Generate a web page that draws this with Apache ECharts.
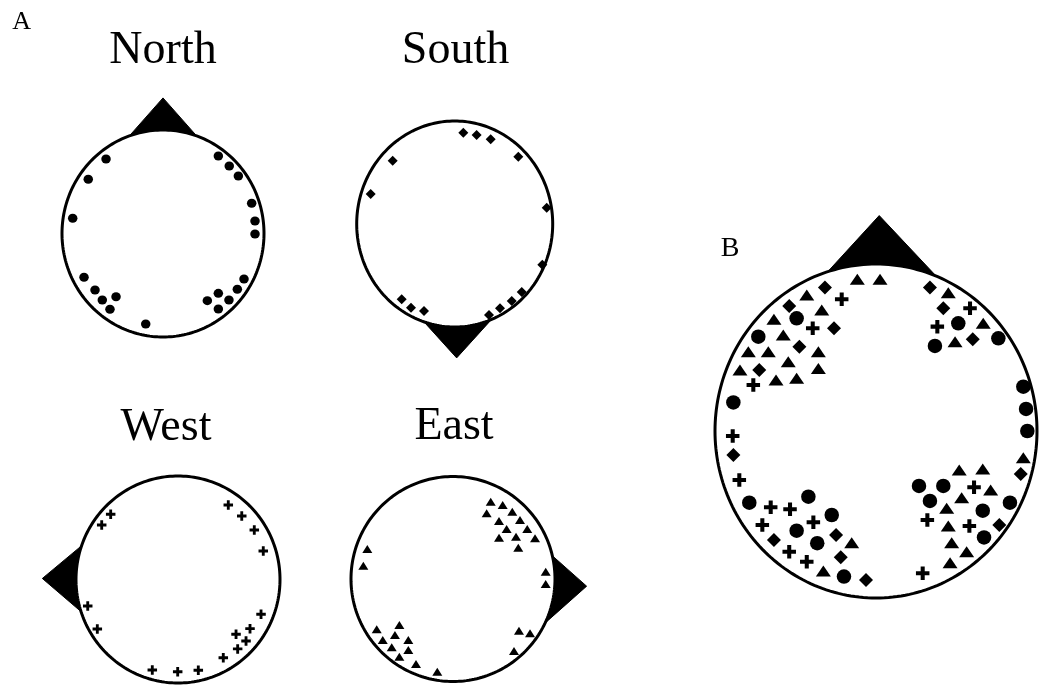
<!DOCTYPE html>
<html>
<head>
<meta charset="utf-8">
<script src="https://cdn.jsdelivr.net/npm/echarts@6/dist/echarts.min.js"></script>
<style>
  html, body { margin: 0; padding: 0; background: #fff; }
  #chart { width: 1039px; height: 685px; }
</style>
</head>
<body>
<div id="chart"></div>
<script>
// Electrode positions in head units (head radius = 100, +y toward the top of the page)

// Panel A: one condition per head
const northDots = [[-56.4,72.0],[-74.0,52.4],[-89.4,14.7],[-78.2,-42.3],[-67.3,-54.6],[-60.1,-64.3],[-52.5,-73.2],[-46.5,-61.1],[-17.1,-87.4],[54.8,74.9],[65.6,65.2],[74.6,55.6],[87.8,29.2],[91.1,12.1],[91.1,-0.5],[80.2,-44.0],[73.6,-53.9],[65.3,-64.3],[54.8,-57.8],[43.9,-64.9],[54.8,-72.9]];
const southDiamonds = [[8.8,88.6],[22.4,86.4],[36.7,82.2],[64.9,65.3],[-63.3,61.5],[-85.7,29.1],[93.9,15.8],[89.4,-39.5],[68.4,-66.0],[58.2,-74.8],[46.2,-81.8],[35.0,-88.3],[-54.1,-73.1],[-44.6,-81.3],[-31.3,-84.5]];
const westCrosses = [[-66.0,63.0],[-74.8,52.7],[49.3,72.0],[62.5,61.4],[74.8,47.8],[83.6,27.5],[-88.5,-25.6],[-79.1,-47.8],[81.4,-33.6],[70.6,-47.5],[56.9,-52.9],[66.7,-59.4],[58.5,-67.1],[44.4,-75.6],[-25.2,-87.4],[-0.3,-89.1],[19.9,-87.7]];
const eastTriangles = [[37.0,75.4],[48.7,72.2],[33.0,64.1],[58.1,65.7],[45.1,56.6],[65.7,57.6],[52.6,48.8],[72.8,48.8],[45.1,40.3],[61.8,41.3],[80.4,39.7],[64.0,30.5],[-84.0,29.3],[-87.9,13.0],[90.9,7.1],[90.9,-4.9],[-52.6,-44.9],[-74.8,-49.1],[-56.9,-54.6],[-68.9,-59.5],[-43.8,-59.5],[-60.1,-66.6],[-43.8,-69.3],[-52.6,-75.8],[-36.3,-82.9],[-15.4,-90.4],[64.7,-50.4],[75.5,-53.0],[59.8,-70.2]];

// Panel B: all four conditions on one head
const bCircles = [[-49.3,67.5],[-73.1,56.5],[-88.6,17.1],[51.1,64.5],[36.6,50.9],[76.0,55.5],[91.5,26.5],[93.2,13.2],[94.0,0],[-78.7,-42.9],[-42.0,-39.3],[-49.3,-59.7],[-27.5,-50.3],[-36.5,-67.2],[-19.9,-87.2],[26.7,-32.9],[41.8,-32.9],[33.5,-41.9],[83.2,-42.9],[66.3,-47.7],[67.1,-63.7]];
const bTriangles = [[-11.6,90.8],[2.5,90.8],[-43.0,81.4],[-33.7,72.5],[-63.4,66.9],[-57.6,57.5],[-79.3,47.5],[-66.9,47.5],[-35.8,47.5],[-54.5,41.5],[-84.5,36.5],[-35.8,37.5],[-62.1,30.5],[-49.3,31.6],[44.9,82.8],[66.6,64.5],[49.1,53.5],[-15.1,-66.9],[-32.7,-83.8],[91.5,-16.0],[51.7,-23.4],[66.3,-22.8],[71.2,-35.3],[53.2,-39.9],[43.9,-46.3],[44.9,-56.9],[47.0,-66.9],[56.3,-72.3],[46.0,-78.9]];
const bDiamonds = [[-31.7,86.0],[-53.9,74.9],[-26.1,61.5],[-47.6,50.5],[-72.5,36.5],[33.5,86.0],[41.8,73.5],[60.1,54.9],[-88.6,-14.4],[-63.4,-65.3],[-24.8,-62.3],[-21.9,-75.6],[-6.2,-89.2],[89.9,-25.7],[76.6,-56.3]];
const bCrosses = [[-21.3,78.9],[-39.3,61.5],[-76.2,27.5],[58.4,73.5],[38.1,62.5],[-89.0,-3.0],[-84.9,-29.3],[-65.4,-45.7],[-53.4,-46.9],[-70.6,-56.3],[-38.9,-54.7],[-53.9,-72.3],[-43.0,-78.3],[60.9,-33.7],[31.9,-53.3],[58.0,-56.9],[29.0,-85.2]];

// Nose outlines: apex, then the two base corners (head units)
const noseNorth = [[0,131],[-39,88],[39,88]];
const noseSouth = [[2,-130],[-38,-88],[42,-88]];
const noseWest = [[-133,1],[-88,38],[-88,-37]];
const noseEast = [[131,-7],[88,31],[88,-45]];
const noseB = [[2,129],[-37,88],[42,88]];

const headTitles = ['North', 'South', 'West', 'East'];
const panelLetters = ['A', 'B'];

// ---- layout (page pixels); xs/ys = axis half-range in head units ----
const frames = [
  { cx: 163,   cy: 233.5, rx: 101, ry: 103.5, xs: 100, ys: 140 },
  { cx: 454.7, cy: 224,   rx: 98,  ry: 103,   xs: 100, ys: 140 },
  { cx: 178,   cy: 579.5, rx: 102, ry: 103.5, xs: 140, ys: 100 },
  { cx: 453,   cy: 579,   rx: 102, ry: 102.5, xs: 140, ys: 100 },
  { cx: 876,   cy: 431,   rx: 161, ry: 167,   xs: 100, ys: 135 }
];
const HEAD_R = 100;

const CROSS = 'path://M3.5,0H6.5V3.5H10V6.5H6.5V10H3.5V6.5H0V3.5H3.5Z';

const grids = frames.map(f => ({
  left: f.cx - f.xs * f.rx / HEAD_R,
  top: f.cy - f.ys * f.ry / HEAD_R,
  width: 2 * f.xs * f.rx / HEAD_R,
  height: 2 * f.ys * f.ry / HEAD_R,
  show: false
}));
const xAxes = frames.map((f, i) => ({ gridIndex: i, type: 'value', min: -f.xs, max: f.xs, show: false }));
const yAxes = frames.map((f, i) => ({ gridIndex: i, type: 'value', min: -f.ys, max: f.ys, show: false }));

function headSeries(i, lineWidth) {
  return {
    type: 'custom', xAxisIndex: i, yAxisIndex: i, z: 3, silent: true, clip: false,
    data: [[0, 0, HEAD_R]],
    renderItem: function (params, api) {
      const x0 = api.value(0), y0 = api.value(1), r = api.value(2);
      const pts = [];
      for (let k = 0; k < 240; k++) {
        const a = k / 240 * 2 * Math.PI;
        pts.push(api.coord([x0 + r * Math.cos(a), y0 + r * Math.sin(a)]));
      }
      return { type: 'polygon', shape: { points: pts },
               style: { fill: '#fff', stroke: '#000', lineWidth: lineWidth } };
    }
  };
}

function noseSeries(i, nose) {
  return {
    type: 'custom', xAxisIndex: i, yAxisIndex: i, z: 2, silent: true, clip: false,
    data: [[nose[0][0], nose[0][1], nose[1][0], nose[1][1], nose[2][0], nose[2][1]]],
    encode: { x: [0, 2, 4], y: [1, 3, 5] },
    renderItem: function (params, api) {
      const pts = [0, 2, 4].map(d => api.coord([api.value(d), api.value(d + 1)]));
      return { type: 'polygon', shape: { points: pts }, style: { fill: '#000', stroke: '#000', lineWidth: 1 } };
    }
  };
}

function markerSeries(i, data, symbol, size) {
  return {
    type: 'scatter', xAxisIndex: i, yAxisIndex: i, z: 5, silent: true, clip: false,
    data: data, symbol: symbol, symbolSize: size,
    itemStyle: { color: '#000', opacity: 1 }
  };
}

const series = [
  noseSeries(0, noseNorth), headSeries(0, 3), markerSeries(0, northDots, 'circle', [9.5, 9]),
  noseSeries(1, noseSouth), headSeries(1, 3), markerSeries(1, southDiamonds, 'diamond', [10, 10]),
  noseSeries(2, noseWest),  headSeries(2, 3), markerSeries(2, westCrosses, CROSS, [9.5, 9.5]),
  noseSeries(3, noseEast),  headSeries(3, 3), markerSeries(3, eastTriangles, 'triangle', [10, 8]),
  noseSeries(4, noseB),     headSeries(4, 3),
  markerSeries(4, bCircles, 'circle', [14.5, 14.5]),
  markerSeries(4, bTriangles, 'triangle', [15, 11]),
  markerSeries(4, bDiamonds, 'diamond', [14, 14]),
  markerSeries(4, bCrosses, CROSS, [13.5, 13.5])
];

// ---- text ----
const SERIF = '"Liberation Serif", "Times New Roman", serif';
function label(text, x, y, size) {
  return { type: 'text', x: x, y: y, silent: true,
           style: { text: text, font: size + 'px ' + SERIF, fill: '#000', align: 'center', verticalAlign: 'middle' } };
}
const titlePos = [[163, 51], [455.5, 50.5], [166, 427.5], [454, 427]];
const graphics = headTitles.map((t, i) => label(t, titlePos[i][0], titlePos[i][1], 46));
graphics.push(label(panelLetters[0], 21.7, 21.7, 26));
graphics.push(label(panelLetters[1], 730, 249, 28));

const chart = echarts.init(document.getElementById('chart'), null, { renderer: 'canvas' });
chart.setOption({
  animation: false,
  backgroundColor: '#fff',
  grid: grids,
  xAxis: xAxes,
  yAxis: yAxes,
  series: series,
  graphic: graphics
});
</script>
</body>
</html>
